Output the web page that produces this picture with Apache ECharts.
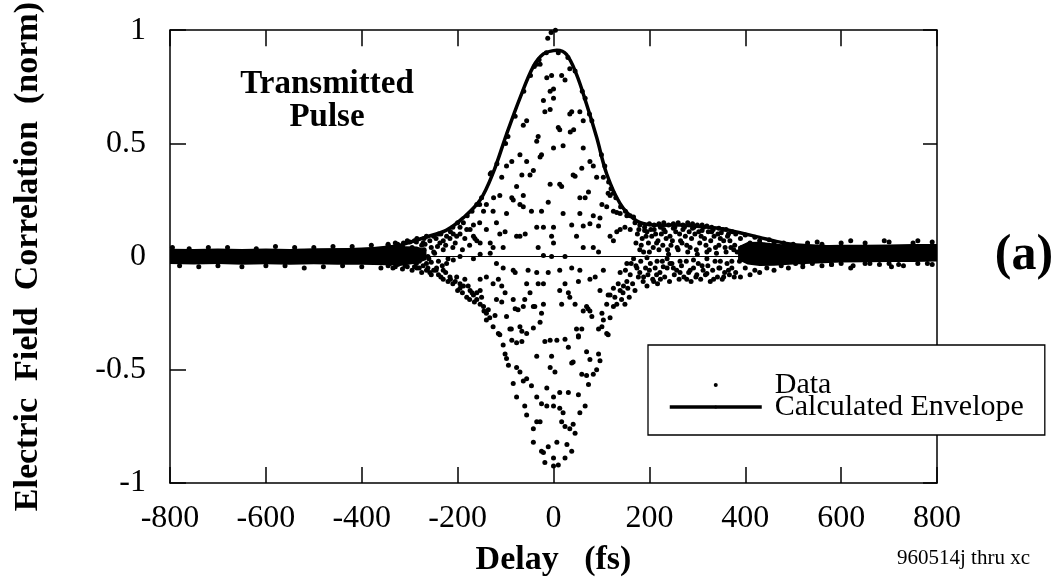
<!DOCTYPE html>
<html>
<head>
<meta charset="utf-8">
<script src="https://cdn.jsdelivr.net/npm/echarts@6/dist/echarts.min.js"></script>
<style>
html,body{margin:0;padding:0;background:#fff;}
#chart{width:1057px;height:582px;}
</style>
</head>
<body>
<div id="chart"></div>
<script>
// ---- axis ticks ----
const xTicks = [-800, -600, -400, -200, 0, 200, 400, 600, 800];
const yTicks = [-1, -0.5, 0, 0.5, 1];

// ---- calculated envelope (delay fs, value) ----
const envelopeDelay = [-800,-700,-600,-500,-400,-350,-320,-290,-260,-223,-188,-153,-126,-98,-70,-42,-21,0,7,27,48,69,90,111,139,167,194,229,264,299,340,368,400,430,470,515,600,700,800];
const envelopeValue = [0.025,0.025,0.025,0.028,0.032,0.04,0.05,0.07,0.09,0.117,0.172,0.25,0.37,0.54,0.70,0.84,0.895,0.91,0.911,0.893,0.805,0.673,0.527,0.365,0.234,0.168,0.143,0.139,0.14,0.134,0.126,0.116,0.1,0.085,0.065,0.05,0.042,0.04,0.045];

// ---- dense noise floor of the data (solid band edges) ----
const leftBandDelay = [-800,-750,-700,-650,-600,-550,-500,-450,-400,-350,-310,-285,-265];
const leftBandLow   = [-0.033,-0.035,-0.033,-0.036,-0.034,-0.036,-0.034,-0.036,-0.036,-0.038,-0.038,-0.03,-0.015];
const leftBandHigh  = [0.035,0.034,0.036,0.034,0.036,0.034,0.036,0.036,0.038,0.042,0.046,0.045,0.03];
const rightBandDelay = [385,405,430,460,500,550,600,650,700,750,800];
const rightBandLow   = [-0.015,-0.035,-0.042,-0.04,-0.035,-0.03,-0.026,-0.025,-0.024,-0.024,-0.022];
const rightBandHigh  = [0.045,0.065,0.066,0.058,0.05,0.05,0.052,0.052,0.054,0.056,0.056];

// ---- individual data points (delay fs, value) ----
const dotsPositiveLobe = [[-5,0.99],[-12,0.965],[4,1.0],[-28,0.85],[-35,0.85],[-4,0.80],[-14,0.79],[17,0.80],[24,0.78],[34,0.83],[0,0.74],[-7,0.73],[-21,0.69],[0,0.70],[-18,0.64],[-7,0.65],[38,0.64],[34,0.63],[55,0.64],[10,0.57],[13,0.56],[35,0.55],[42,0.56],[62,0.60],[-56,0.60],[-63,0.58],[-35,0.51],[-32,0.53],[0,0.48],[20,0.49],[-25,0.45],[-28,0.44],[-70,0.45],[62,0.48],[76,0.42],[83,0.40],[59,0.39],[-87,0.42],[-98,0.40],[-56,0.42],[-42,0.38],[-49,0.36],[-66,0.36],[41,0.36],[45,0.355],[90,0.35],[104,0.35],[-7,0.32],[13,0.32],[17,0.31],[-77,0.31],[-108,0.35],[-132,0.365],[-125,0.26],[-112,0.27],[-87,0.26],[-84,0.25],[-63,0.27],[55,0.26],[66,0.26],[73,0.285],[101,0.23],[111,0.22],[114,0.28],[118,0.27],[-11,0.24],[-70,0.23],[-63,0.22],[-46,0.20],[-25,0.20],[-98,0.19],[-126,0.20],[-146,0.20],[-140,0.23],[-154,0.23],[20,0.19],[55,0.19],[83,0.18],[97,0.17],[125,0.20],[132,0.195],[139,0.19],[153,0.18],[167,0.175],[38,0.14],[62,0.135],[76,0.145],[94,0.135],[0,0.13],[-21,0.13],[-119,0.15],[-112,0.10],[-101,0.11],[-167,0.14],[-154,0.15],[-140,0.12],[-188,0.15],[-195,0.13],[-181,0.12],[-77,0.09],[-70,0.09],[-59,0.10],[-35,0.13],[-4,0.09],[0,0.06],[-32,0.04],[62,0.04],[83,0.04],[94,0.02],[48,0.09],[118,0.09],[125,0.07],[132,0.11],[139,0.12],[149,0.13],[160,0.12],[-132,0.06],[-126,0.04],[-105,0.04],[-160,0.07],[-153,0.06],[-174,0.12],[-167,0.09],[-164,0.08],[-209,0.10],[-202,0.09],[-223,0.09],[-216,0.08],[-230,0.07],[-237,0.06],[-258,0.07],[-272,0.06],[-286,0.065],[-313,0.06],[-320,0.04]];
const dotsEnvelopeEdge = [[-130,0.37],[-118,0.41],[-100,0.50],[-95,0.53],[-80,0.62],[-62,0.73],[-48,0.80],[-40,0.84],[-30,0.87],[-15,0.9],[10,0.9],[30,0.88],[45,0.82],[60,0.73],[66,0.70],[75,0.63],[80,0.60],[100,0.45],[107,0.40],[115,0.33],[120,0.30],[125,0.28],[130,0.26],[140,0.22],[150,0.20],[160,0.18],[-150,0.26],[-160,0.23],[-170,0.20],[-180,0.18],[-200,0.15],[-210,0.13],[-240,0.10],[-250,0.09],[-270,0.08],[-290,0.07],[-300,0.065]];
const dotsShoulder = [[170,0.15],[180,0.14],[190,0.13],[200,0.145],[210,0.14],[220,0.145],[230,0.15],[240,0.14],[250,0.145],[260,0.15],[270,0.14],[280,0.15],[290,0.145],[300,0.14],[310,0.14],[320,0.135],[330,0.13],[345,0.125],[360,0.12],[175,0.10],[185,0.08],[195,0.11],[205,0.09],[215,0.06],[225,0.10],[235,0.08],[245,0.05],[255,0.11],[265,0.07],[275,0.09],[285,0.04],[295,0.10],[305,0.06],[315,0.08],[325,0.03],[335,0.09],[345,0.05],[355,0.07],[365,0.10],[370,0.04],[180,0.03],[200,0.02],[220,0.03],[240,0.01],[260,0.03],[280,0.02],[300,0.01],[320,0.02],[340,0.015],[360,0.02],[190,0.115],[210,0.12],[230,0.12],[250,0.125],[270,0.12],[290,0.125],[310,0.115],[330,0.11],[350,0.105],
[172,0.06],[178,0.12],[183,0.05],[188,0.02],[193,0.09],[198,0.06],[203,0.12],[208,0.04],[213,0.10],[218,0.07],[223,0.13],[228,0.05],[233,0.11],[238,0.03],[243,0.09],[248,0.07],[253,0.13],[258,0.04],[263,0.10],[268,0.06],[273,0.13],[278,0.05],[283,0.11],[288,0.08],[293,0.13],[298,0.03],[303,0.11],[308,0.09],[313,0.13],[318,0.05],[323,0.11],[328,0.07],[333,0.12],[338,0.04],[343,0.10],[348,0.08],[353,0.12],[358,0.04],[363,0.09],[368,0.07],[373,0.11],[378,0.05],
[172,-0.04],[177,-0.09],[182,-0.02],[187,-0.11],[192,-0.05],[197,-0.08],[202,-0.03],[207,-0.10],[212,-0.05],[217,-0.12],[222,-0.07],[227,-0.02],[232,-0.09],[237,-0.05],[242,-0.11],[247,-0.03],[252,-0.08],[257,-0.06],[262,-0.10],[267,-0.04],[272,-0.09],[277,-0.02],[282,-0.07],[287,-0.11],[292,-0.05],[297,-0.09],[302,-0.03],[307,-0.10],[312,-0.06],[317,-0.08],[322,-0.04],[327,-0.11],[332,-0.06],[337,-0.02],[342,-0.09],[347,-0.05],[352,-0.10],[357,-0.07],[362,-0.03],[367,-0.08],[372,-0.05],[377,-0.09],
[135,-0.12],[145,-0.16],[155,-0.14],[160,-0.08],[165,-0.12],[170,-0.15],[158,-0.18],[150,-0.06],[162,-0.03]];
const dotsNegativeLobe = [[-18,-0.91],[0,-0.89],[10,-0.92],[24,-0.89],[-21,-0.865],[0,-0.925],[-42,-0.82],[-25,-0.86],[-11,-0.84],[7,-0.82],[28,-0.83],[38,-0.86],[-42,-0.76],[-35,-0.73],[-28,-0.73],[17,-0.73],[24,-0.75],[34,-0.76],[45,-0.78],[41,-0.74],[55,-0.69],[66,-0.66],[-56,-0.70],[-60,-0.66],[-77,-0.62],[-35,-0.62],[-25,-0.65],[-14,-0.66],[0,-0.66],[13,-0.67],[20,-0.69],[0,-0.62],[13,-0.60],[31,-0.60],[52,-0.61],[-14,-0.58],[-84,-0.56],[-63,-0.55],[-46,-0.57],[-56,-0.54],[-70,-0.51],[-77,-0.49],[-94,-0.48],[-98,-0.45],[-101,-0.43],[59,-0.52],[69,-0.525],[83,-0.52],[73,-0.565],[90,-0.50],[76,-0.455],[97,-0.46],[94,-0.43],[69,-0.42],[38,-0.47],[41,-0.465],[-7,-0.49],[3,-0.51],[-35,-0.44],[-4,-0.44],[-105,-0.39],[-87,-0.37],[-77,-0.38],[-66,-0.375],[-18,-0.375],[-7,-0.37],[7,-0.37],[24,-0.365],[31,-0.40],[52,-0.35],[-115,-0.34],[-112,-0.345],[-91,-0.32],[-66,-0.33],[-56,-0.34],[-126,-0.31],[-140,-0.28],[-133,-0.27],[-122,-0.26],[-98,-0.265],[-88,-0.32],[-70,-0.31],[-42,-0.315],[-28,-0.29],[48,-0.32],[59,-0.32],[52,-0.355],[94,-0.32],[101,-0.31],[104,-0.28],[118,-0.27],[111,-0.34],[114,-0.345],[62,-0.24],[69,-0.22],[80,-0.265],[101,-0.25],[111,-0.21],[118,-0.17],[125,-0.22],[132,-0.21],[-136,-0.235],[-146,-0.22],[-153,-0.21],[-80,-0.23],[-74,-0.235],[-63,-0.22],[-42,-0.22],[-25,-0.25],[-21,-0.21],[17,-0.21],[34,-0.18],[45,-0.21],[72,-0.23],[76,-0.24],[-119,-0.19],[-108,-0.20],[-101,-0.16],[-84,-0.19],[-60,-0.19],[-49,-0.16],[-39,-0.22],[13,-0.15],[24,-0.12],[31,-0.16],[52,-0.11],[-56,-0.12],[-32,-0.12],[-21,-0.12],[-11,-0.07],[13,-0.06],[38,-0.05],[55,-0.06],[-174,-0.15],[-160,-0.16],[-153,-0.15],[-167,-0.17],[-181,-0.18],[-195,-0.12],[-188,-0.13],[-216,-0.09],[-202,-0.09],[-153,-0.10],[-140,-0.09],[-126,-0.12],[-115,-0.10],[-108,-0.13],[-119,-0.03],[-105,-0.05],[-84,-0.06],[-80,-0.07],[-53,-0.06],[-35,-0.07],[-240,-0.08],[-230,-0.10],[-220,-0.11],[-210,-0.12],[-200,-0.15],[-190,-0.16],[-175,-0.19],[-165,-0.20],[-150,-0.18],[-145,-0.24],[-140,-0.25],[76,-0.10],[87,-0.09],[97,-0.15],[104,-0.06],[114,-0.17],[125,-0.14],[139,-0.15],[146,-0.13],[153,-0.11],[128,-0.18],[142,-0.19],[149,-0.21],[139,-0.07],[153,-0.03],[174,-0.05],[188,-0.09],[195,-0.13],[209,-0.11],[223,-0.10],[229,-0.045],[243,-0.03],[264,-0.07],[278,-0.10],[299,-0.08],[320,-0.075],[334,-0.10],[355,-0.09],[365,-0.06],[167,-0.01],[195,-0.005],[216,-0.02],[237,-0.01],[264,-0.02],[292,-0.015],[320,-0.01],[348,-0.02],[180,-0.07],[200,-0.06],[215,-0.08],[250,-0.05],[285,-0.06],[310,-0.04],[345,-0.05]];
const dotsLeftRise = [[-345,0.05],[-335,0.03],[-325,0.055],[-315,0.045],[-305,0.07],[-295,0.04],[-285,0.08],[-275,0.05],[-265,0.09],[-255,0.04],[-245,0.08],[-235,0.10],[-225,0.05],[-215,0.11],[-205,0.06],[-195,0.10],[-185,0.08],[-175,0.05],[-310,0.02],[-290,0.02],[-270,0.03],[-250,0.02],[-230,0.03],[-210,0.04],[-190,0.03],[-345,-0.04],[-335,-0.05],[-325,-0.035],[-315,-0.055],[-305,-0.045],[-295,-0.06],[-285,-0.05],[-275,-0.07],[-265,-0.06],[-255,-0.08],[-245,-0.06],[-235,-0.09],[-225,-0.07],[-215,-0.10],[-205,-0.11],[-195,-0.14],[-185,-0.10],[-178,-0.13],[-170,-0.16],[-160,-0.19],[-300,-0.01],[-280,-0.02],[-260,-0.01],[-240,-0.02],[-220,-0.01],[-262,0.0],[-255,-0.025],[-248,0.015],[-242,0.045],[-232,-0.04],[-268,0.055]];
const dotsTails = [[-230,-0.06],[-244,-0.05],[-258,-0.07],[-272,-0.04],[-286,-0.03],[-300,-0.02],[-320,-0.03],[-341,-0.03],[-223,-0.03],[-209,-0.015],[-195,0],[-167,-0.01],[-153,0.01],[-132,0.015],[-21,0.005],[-4,0],[24,0],[-250,-0.06],[-262,-0.05],[-280,-0.05],[-265,-0.03],[-290,-0.045],[-310,-0.04],[-330,-0.045],[380,0.10],[390,0.08],[400,0.095],[410,0.06],[420,0.085],[430,0.07],[440,0.05],[450,0.075],[460,0.06],[380,-0.07],[390,-0.09],[400,-0.05],[410,-0.08],[420,-0.06],[430,-0.07],[445,-0.05],[460,-0.06],[475,-0.04],[490,-0.05],[505,-0.03],[520,-0.045],[540,-0.03],[560,-0.04],[580,-0.035],[600,-0.03],[625,-0.04],[650,-0.03],[680,-0.035],[700,-0.03],[730,-0.04],[760,-0.03],[790,-0.035],[480,0.06],[500,0.055],[530,0.06],[560,0.055],[600,0.06],[650,0.06],[700,0.065],[750,0.06],[790,0.065],[-795,0.04],[-780,-0.04],[-760,0.035],[-740,-0.045],[-720,0.04],[-700,-0.04],[-680,0.04],[-650,-0.045],[-620,0.035],[-600,-0.04],[-580,0.045],[-560,-0.04],[-540,0.04],[-520,-0.05],[-500,0.04],[-480,-0.045],[-460,0.045],[-440,-0.04],[-420,0.045],[-400,-0.045],[-380,0.05],[-360,-0.05],[-345,0.055],[-330,0.06],[520,-0.03],[550,0.065],[580,-0.035],[620,0.07],[660,-0.03],[690,0.07],[720,-0.035],[760,0.07],[780,-0.03],[620,-0.05],[705,-0.045],[383,0.02],[388,-0.02],[393,0.04],[398,0.0],[376,0.03],[372,-0.02]];

const FONT = '"Liberation Serif", "Times New Roman", serif';

const chart = echarts.init(document.getElementById('chart'), null, {renderer: 'canvas'});

function bandSeries(delays, low, high) {
  return {
    type: 'custom', silent: true, z: 1, data: [[0, 0]],
    renderItem: function (params, api) {
      const pts = [];
      for (let i = 0; i < delays.length; i++) pts.push(api.coord([delays[i], high[i]]));
      for (let i = delays.length - 1; i >= 0; i--) pts.push(api.coord([delays[i], low[i]]));
      return {type: 'polygon', shape: {points: pts}, style: {fill: '#000'}};
    }
  };
}

const envelopeData = envelopeDelay.map((d, i) => [d, envelopeValue[i]]);
const allDots = [].concat(dotsPositiveLobe, dotsEnvelopeEdge, dotsShoulder, dotsNegativeLobe, dotsLeftRise, dotsTails);

const axisLineStyle = {color: '#000', width: 1.5};
const tickStyle = {color: '#000', width: 1.5};

const option = {
  backgroundColor: '#fff',
  animation: false,
  grid: {left: 170, right: 120, top: 29, bottom: 97, containLabel: false},
  xAxis: [{
    type: 'value', min: -800, max: 800, interval: 200, position: 'bottom',
    axisLine: {show: true, onZero: false, lineStyle: axisLineStyle},
    axisTick: {show: true, inside: true, length: 16, lineStyle: tickStyle},
    axisLabel: {show: true, color: '#000', fontFamily: FONT, fontSize: 32, margin: 20, showMinLabel: true, showMaxLabel: true,
      customValues: xTicks},
    splitLine: {show: false},
    name: 'Delay   (fs)', nameLocation: 'middle', nameGap: 60,
    nameTextStyle: {color: '#000', fontFamily: FONT, fontWeight: 'bold', fontSize: 34}
  }, {
    type: 'value', min: -800, max: 800, interval: 200, position: 'top',
    axisLine: {show: true, onZero: false, lineStyle: axisLineStyle},
    axisTick: {show: true, inside: true, length: 16, lineStyle: tickStyle},
    axisLabel: {show: false}, splitLine: {show: false}
  }],
  yAxis: [{
    type: 'value', min: -1, max: 1, interval: 0.5, position: 'left',
    axisLine: {show: true, onZero: false, lineStyle: axisLineStyle},
    axisTick: {show: true, inside: true, length: 16, lineStyle: tickStyle},
    axisLabel: {show: true, color: '#000', fontFamily: FONT, fontSize: 32, margin: 24, showMinLabel: true, showMaxLabel: true,
      customValues: yTicks},
    splitLine: {show: false},
    name: 'Electric  Field  Correlation  (norm)', nameLocation: 'middle', nameGap: 125, nameRotate: 90,
    nameTextStyle: {color: '#000', fontFamily: FONT, fontWeight: 'bold', fontSize: 34}
  }, {
    type: 'value', min: -1, max: 1, interval: 0.5, position: 'right',
    axisLine: {show: true, onZero: false, lineStyle: axisLineStyle},
    axisTick: {show: true, inside: true, length: 14, lineStyle: tickStyle},
    axisLabel: {show: false}, splitLine: {show: false}
  }],
  legend: {
    orient: 'vertical', left: 648, top: 345,
    padding: [25, 21, 13, 20],
    itemWidth: 92, itemHeight: 4, itemGap: -8,
    backgroundColor: '#fff', borderColor: '#000', borderWidth: 1.3, borderRadius: 0,
    lineStyle: {width: 'inherit'},
    textStyle: {color: '#000', fontFamily: FONT, fontSize: 30, lineHeight: 22, padding: [0, 0, 0, 8]},
    data: [{name: 'Data', icon: 'circle'}, {name: 'Calculated Envelope'}],
    selectedMode: false
  },
  graphic: [
    {type: 'text', x: 327, y: 101, style: {text: 'Transmitted\nPulse', font: 'bold 33px ' + FONT, fill: '#000', align: 'center', verticalAlign: 'middle', lineHeight: 33}},
    {type: 'text', x: 1024, y: 256, style: {text: '(a)', font: 'bold 50px ' + FONT, fill: '#000', align: 'center', verticalAlign: 'middle'}},
    {type: 'text', x: 1030, y: 558, style: {text: '960514j thru xc', font: '21px ' + FONT, fill: '#000', align: 'right', verticalAlign: 'middle'}}
  ],
  series: [
    bandSeries(leftBandDelay, leftBandLow, leftBandHigh),
    bandSeries(rightBandDelay, rightBandLow, rightBandHigh),
    {
      name: 'Data', type: 'scatter', symbol: 'circle', symbolSize: 5, z: 2,
      itemStyle: {color: '#000', opacity: 1},
      data: allDots
    },
    {
      name: 'Calculated Envelope', type: 'line', smooth: 0.35, showSymbol: false, symbol: 'none', z: 3,
      lineStyle: {color: '#000', width: 3.5}, itemStyle: {color: '#000'},
      data: envelopeData,
      markLine: {silent: true, symbol: 'none', label: {show: false}, lineStyle: {color: '#000', width: 1, type: 'solid'},
        data: [{yAxis: 0}]}
    }
  ]
};
chart.setOption(option);
</script>
</body>
</html>
